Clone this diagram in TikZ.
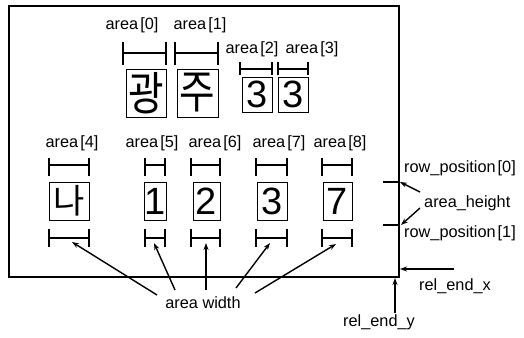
\documentclass[tikz,border=0pt]{standalone}
\usepackage{fontspec}
\setmainfont{Liberation Sans}
\newfontfamily\kor{Noto Sans CJK KR}
\usetikzlibrary{arrows.meta}
\newcommand\hbrk[5]{\draw[brk] ({#1},{#3-#4})--({#1},{#3+#5}) ({#1},{#3})--({#2},{#3}) ({#2},{#3-#4})--({#2},{#3+#5});}
\newcommand\ar[1]{area\hspace{2.2pt}[#1]}
\begin{document}
\begin{tikzpicture}[x=1pt,y=-1pt,
  lbl/.style={font=\fontsize{16.3}{19}\selectfont, inner sep=0pt},
  cell/.style={draw, line width=0.9pt, inner sep=0pt, font=\fontsize{38}{40}\selectfont},
  brk/.style={line width=1.6pt},
  arr/.style={line width=1.4pt, -{Stealth[length=7pt,width=5pt]}},
  tick/.style={line width=1.6pt},
  frm/.style={line width=1.8pt}]
\useasboundingbox (0,0) rectangle (524,337);
% frame
\draw[frm] (9,6) rectangle (399,277);
% top row cells
\node[cell, minimum width=40pt, minimum height=48pt] (b0) at (146,93) {\kor\fontsize{46}{46}\selectfont\scalebox{0.84}[1]{광}};
\node[cell, minimum width=41pt, minimum height=48pt] (b1) at (197.5,93) {\kor\fontsize{46}{46}\selectfont\scalebox{0.84}[1]{주}};
\node[cell, minimum width=30pt, minimum height=35pt] (b2) at (257,94.5) {3};
\node[cell, minimum width=30pt, minimum height=35pt] (b3) at (293,94.5) {3};
% bottom row cells
\node[cell, minimum width=40pt, minimum height=38pt] (b4) at (69,201) {\kor\fontsize{34}{34}\selectfont 나};
\node[cell, minimum width=19pt, minimum height=38pt] (b5) at (155.5,201) {1};
\node[cell, minimum width=27pt, minimum height=38pt] (b6) at (206.5,201) {2};
\node[cell, minimum width=30pt, minimum height=38pt] (b7) at (272,201) {3};
\node[cell, minimum width=29pt, minimum height=38pt] (b8) at (337.5,201) {7};
% brackets top row
\hbrk{123}{166}{53}{11}{12}
\hbrk{175}{218}{53}{11}{12}
\hbrk{240}{272}{69}{7}{6}
\hbrk{278}{308}{69}{7}{6}
% brackets bottom row (above)
\hbrk{49}{89}{165}{7}{11}
\hbrk{145}{165}{165}{7}{11}
\hbrk{191}{220}{165}{7}{11}
\hbrk{256}{287}{165}{7}{11}
\hbrk{322}{352}{165}{7}{11}
% brackets bottom row (below)
\hbrk{49}{89}{238}{9}{9}
\hbrk{145}{165}{238}{9}{9}
\hbrk{191}{220}{238}{9}{9}
\hbrk{256}{287}{238}{9}{9}
\hbrk{322}{352}{238}{9}{9}
% labels
\node[lbl] (l0) at (132,25) {\ar{0}};
\node[lbl] (l1) at (200,25) {\ar{1}};
\node[lbl] (l2) at (252,49) {\ar{2}};
\node[lbl] (l3) at (312,49) {\ar{3}};
\node[lbl] (l4) at (72,143) {\ar{4}};
\node[lbl] (l5) at (152,143) {\ar{5}};
\node[lbl] (l6) at (215,143) {\ar{6}};
\node[lbl] (l7) at (279,143) {\ar{7}};
\node[lbl] (l8) at (340,143) {\ar{8}};
% right side
\draw[tick] (383,182) -- (400,182);
\draw[tick] (383,225) -- (400,225);
\node[lbl, anchor=west] (rp0) at (404,168) {row\_position\hspace{2pt}[0]};
\node[lbl, anchor=west] (ah) at (424,203) {area\_height};
\node[lbl, anchor=west] (rp1) at (404,233) {row\_position\hspace{2pt}[1]};
\node[lbl] (rex) at (455,286) {rel\_end\_x};
\node[lbl] (rey) at (379,322) {rel\_end\_y};
\node[lbl] (aw) at (203,303) {area width};
% arrow targets and starts
\coordinate (t0) at (400,182);
\coordinate (t1) at (401,225);
\coordinate (s0) at (420,192);
\coordinate (s1) at (420,208);
\coordinate (sx) at (454,269);
\coordinate (tx) at (400,269);
\coordinate (sy) at (395,313);
\coordinate (ty) at (395,278);
\coordinate (w4) at (72,242);
\coordinate (w5) at (154,243);
\coordinate (w6) at (206,243);
\coordinate (w7) at (270,243);
\coordinate (w8) at (336,244);
\coordinate (a4) at (157,295);
\coordinate (a5) at (175,290);
\coordinate (a6) at (206,290);
\coordinate (a7) at (236,288);
\coordinate (a8) at (255,293);
\draw[arr] (s0) -- (t0);
\draw[arr] (s1) -- (t1);
\draw[arr] (sx) -- (tx);
\draw[arr] (sy) -- (ty);
\draw[arr] (a4) -- (w4);
\draw[arr] (a5) -- (w5);
\draw[arr] (a6) -- (w6);
\draw[arr] (a7) -- (w7);
\draw[arr] (a8) -- (w8);
\end{tikzpicture}
\end{document}
